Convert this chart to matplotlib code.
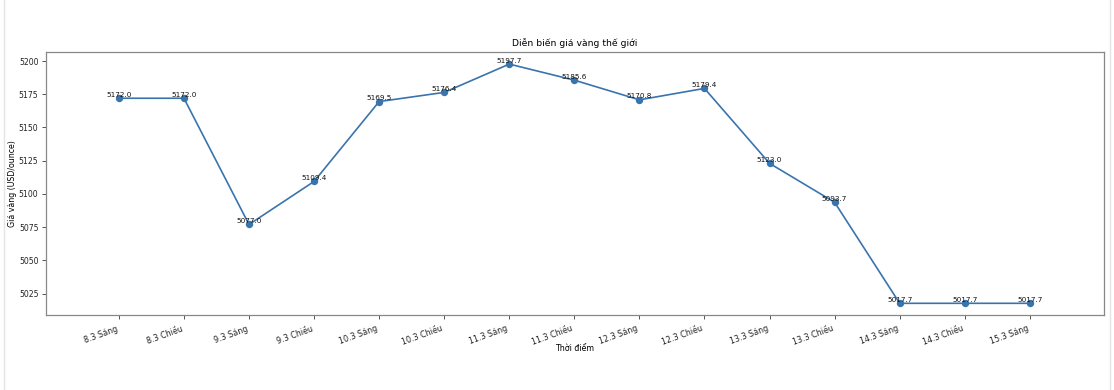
import numpy as np
import matplotlib
matplotlib.use('Agg')
import matplotlib.pyplot as plt
from matplotlib.lines import Line2D

# du lieu gia vang the gioi
thoidiem=['8.3 Sáng','8.3 Chiều','9.3 Sáng','9.3 Chiều','10.3 Sáng','10.3 Chiều',
	'11.3 Sáng','11.3 Chiều','12.3 Sáng','12.3 Chiều','13.3 Sáng','13.3 Chiều',
	'14.3 Sáng','14.3 Chiều','15.3 Sáng']
giavang=[5172.0,5172.0,5077.0,5109.4,5169.5,5176.4,5197.7,5185.6,5170.8,5179.4,
	5123.0,5093.7,5017.7,5017.7,5017.7]

fig=plt.figure(figsize=(11.14,3.9),dpi=100)
ax=fig.add_axes([46/1114,1-315/390,(1104-46)/1114,(315-52)/390])
x=np.arange(len(thoidiem))
ax.plot(x,giavang,'-o',color='#3a74ad',lw=1.2,ms=4.3)
for ii in range(len(x)):
	ax.text(x[ii],giavang[ii]+0.3,'%.1f'%giavang[ii],ha='center',va='bottom',fontsize=5.2,color='#111111')
ax.set_xticks(x)
ax.set_xticklabels(thoidiem,rotation=20,ha='right',fontsize=5.8,color='#222222')
ax.set_yticks([5025,5050,5075,5100,5125,5150,5175,5200])
ax.tick_params(axis='y',labelsize=5.6,labelcolor='#222222',pad=2.5)
ax.tick_params(length=3,width=0.7,color='#555555')
ax.set_xlim(-1.12,15.14)
ax.set_ylim(5008.9,5206.8)
for s in ax.spines.values():
	s.set_color('#888888');s.set_linewidth(0.9)
ax.set_title('Diễn biến giá vàng thế giới',fontsize=6.7,pad=4)
ax.set_xlabel('Thời điểm',fontsize=5.7)
ax.set_ylabel('Giá vàng (USD/ounce)',fontsize=5.7)
ax.yaxis.set_label_coords(-0.0276,0.5)
ax.xaxis.set_label_coords(0.5,-0.11)
# vien khung ben ngoai
fig.add_artist(Line2D([4/1114,4/1114],[0,1],color='#e4e4e4',lw=1))
fig.add_artist(Line2D([1110/1114,1110/1114],[0,1],color='#e4e4e4',lw=1))
fig.savefig('out.png',dpi=100)
